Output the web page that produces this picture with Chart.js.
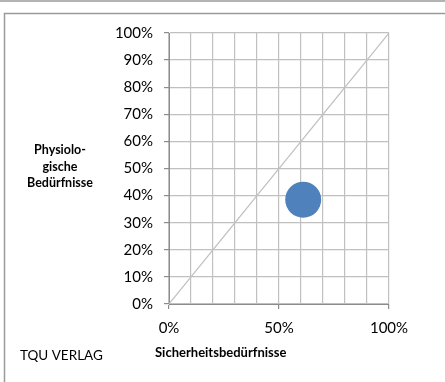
<!DOCTYPE html>
<html>
<head>
<meta charset="utf-8">
<script src="https://cdn.jsdelivr.net/npm/chart.js@4"></script>
<style>
  html, body { margin: 0; padding: 0; background: #fff; }
  #wrap { width: 445px; height: 382px; position: relative; }
</style>
</head>
<body>
<div id="wrap"><canvas id="chart" width="445" height="382"></canvas></div>
<script>
// Data
const diagonalX = [0, 100]
const diagonalY = [0, 100]
const bubbleX = [61]
const bubbleY = [38.5]
const bubbleR = [18]
const yTicks = [0, 10, 20, 30, 40, 50, 60, 70, 80, 90, 100]
const xLabelTicks = [0, 50, 100]

const yTitleLines = ["Physiolo-", "gische", "Bedürfnisse"]
const xTitle = "Sicherheitsbedürfnisse"
const footer = "TQU VERLAG"

const fontFamily = "Lato, 'Open Sans', sans-serif"
const gridColor = "#c0c0c0"
const axisColor = "#8c8c8c"

// Frame lines and the free-standing texts
const framePlugin = {
  id: "frame",
  beforeDraw(chart) {
    const ctx = chart.ctx
    ctx.save()
    ctx.fillStyle = "#fff"
    ctx.fillRect(0, 0, chart.width, chart.height)
    ctx.strokeStyle = "#9a9a9a"
    ctx.lineWidth = 1.5
    ctx.beginPath()
    ctx.moveTo(0, 1)
    ctx.lineTo(chart.width, 1)
    ctx.stroke()
    ctx.beginPath()
    ctx.moveTo(4.5, chart.height)
    ctx.lineTo(4.5, 13.5)
    ctx.lineTo(chart.width, 13.5)
    ctx.stroke()
    ctx.restore()
  },
  afterDraw(chart) {
    const ctx = chart.ctx
    ctx.save()
    ctx.fillStyle = "#000"
    ctx.textBaseline = "middle"
    ctx.textAlign = "center"
    ctx.font = "bold 12.5px " + fontFamily
    yTitleLines.forEach((line, i) => ctx.fillText(line, 60, 150 + i * 16.5))
    ctx.textAlign = "left"
    ctx.font = "bold 13px " + fontFamily
    ctx.fillText(xTitle, 155, 353)
    ctx.font = "13.5px " + fontFamily
    ctx.fillText(footer, 20, 356)
    ctx.restore()
  }
}

new Chart(document.getElementById("chart"), {
  type: "bubble",
  data: {
    datasets: [
      {
        type: "scatter",
        data: diagonalX.map((x, i) => ({ x, y: diagonalY[i] })),
        showLine: true,
        borderColor: "#c0c0c0",
        borderWidth: 1.2,
        pointRadius: 0,
        order: 2,
      },
      {
        data: bubbleX.map((x, i) => ({ x, y: bubbleY[i], r: bubbleR[i] })),
        backgroundColor: "#4f81bd",
        borderColor: "#4f81bd",
        borderWidth: 0,
        order: 1,
      },
    ],
  },
  options: {
    responsive: false,
    animation: false,
    layout: { padding: { top: 33, right: 56, left: 0, bottom: 0 } },
    plugins: {
      legend: { display: false },
      tooltip: { enabled: false },
    },
    scales: {
      x: {
        type: "linear",
        min: 0,
        max: 100,
        afterFit: (scale) => { scale.height = 78 },
        ticks: {
          stepSize: 10,
          autoSkip: false,
          maxRotation: 0,
          padding: 10,
          color: "#000",
          font: { family: fontFamily, size: 15 },
          callback: (v) => (xLabelTicks.includes(v) ? v + "%" : ""),
        },
        grid: {
          color: gridColor,
          lineWidth: 1.2,
          tickLength: 5,
          tickColor: (ctx) => (ctx.tick && xLabelTicks.includes(ctx.tick.value) ? axisColor : "rgba(0,0,0,0)"),
        },
        border: { color: axisColor },
      },
      y: {
        type: "linear",
        min: 0,
        max: 100,
        afterFit: (scale) => { scale.width = 169 },
        afterBuildTicks: (scale) => { scale.ticks = yTicks.map((v) => ({ value: v })) },
        ticks: {
          padding: 11,
          color: "#000",
          font: { family: fontFamily, size: 15 },
          callback: (v) => v + "%",
        },
        grid: {
          color: gridColor,
          lineWidth: 1.2,
          tickLength: 5,
          tickColor: axisColor,
        },
        border: { color: axisColor },
      },
    },
  },
  plugins: [framePlugin],
})
</script>
</body>
</html>
